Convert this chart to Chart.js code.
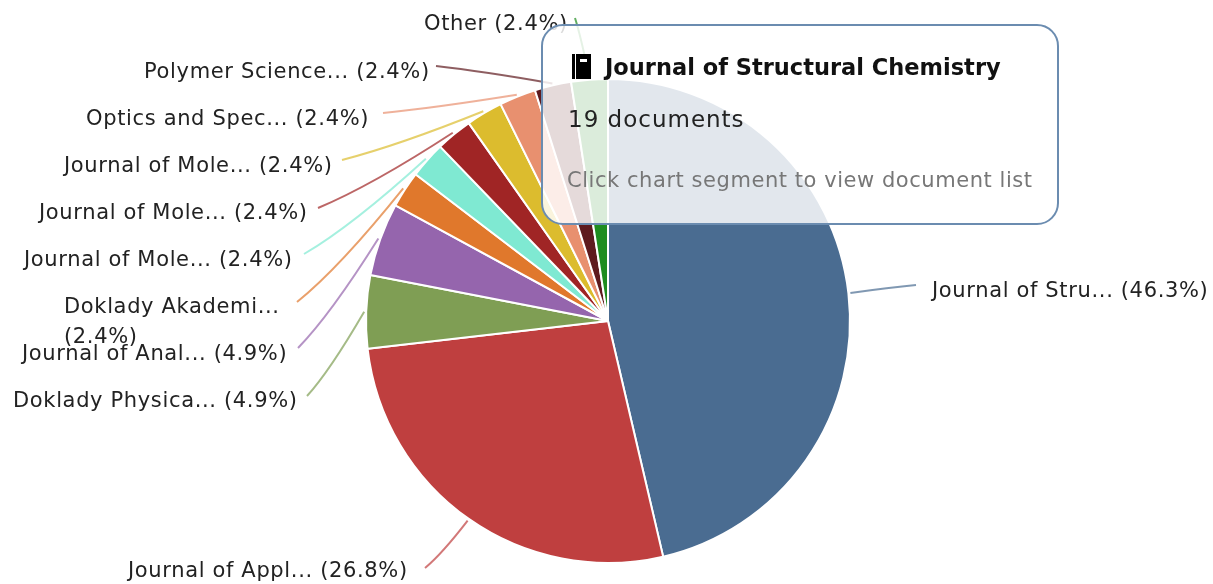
<!DOCTYPE html>
<html>
<head>
<style>
    html, body { margin: 0; padding: 0; background: #fff; overflow: hidden; }
    #wrap { position: relative; width: 1213px; height: 584px; filter: blur(0.5px); }
    #tip {
        position: absolute; left: 541px; top: 24px; width: 514px; height: 197px;
        border: 2px solid #6b8cb0; border-radius: 22px;
        background: rgba(255,255,255,0.84);
        font-family: "DejaVu Sans", sans-serif; color: #222;
    }
    #tip div { position: absolute; white-space: nowrap; }
    #book { left: 29px; top: 28px; width: 19px; height: 25px; background: #000; }
    #book i { position: absolute; left: 3px; top: 0; width: 1px; height: 25px; background: #fff; }
    #book b { position: absolute; left: 8px; top: 5px; width: 7px; height: 3px; background: #fff; }
    #tipTitle { left: 62px; top: 28px; font-weight: bold; font-size: 22.5px; color: #111; }
    #tipCount { left: 25px; top: 80px; font-size: 23px; letter-spacing: 1px; }
    #tipHint { left: 24px; top: 142px; font-size: 21px; letter-spacing: 0.55px; color: #777; }
</style>
</head>
<body>
    <script src="https://cdn.jsdelivr.net/npm/chart.js"></script>
    <div id="wrap">
        <canvas id="canvas" width="1213" height="584"></canvas>
        <div id="tip">
            <div id="book"><i></i><b></b></div>
            <div id="tipTitle">Journal of Structural Chemistry</div>
            <div id="tipCount">19 documents</div>
            <div id="tipHint">Click chart segment to view document list</div>
        </div>
    </div>
    <script>
        const categories = ["Journal of Stru...", "Journal of Appl...", "Doklady Physica...", "Journal of Anal...", "Doklady Akademi...", "Journal of Mole...", "Journal of Mole...", "Journal of Mole...", "Optics and Spec...", "Polymer Science...", "Other"];
        const documents = [19, 11, 2, 2, 1, 1, 1, 1, 1, 1, 1];
        const colors = ["#4a6c91", "#bf3f3f", "#7f9e54", "#9565ad", "#e0782c", "#7fe9d2", "#a02525", "#dcbc2e", "#e8906f", "#5e1a1e", "#1f8c1f"];
        // where each label sits [x, y] and where its leader line ends [x, y]
        const labelPos = [[932, 292], [128, 572], [13, 402], [22, 355], [64, 308], [24, 261], [39, 214], [64, 167], [86, 120], [144, 73], [424, 25]];
        const leaderEnd = [[916, 285], [425, 568], [307, 396], [298, 348], [297, 302], [304, 254], [318, 208], [342, 160], [383, 113], [436, 66], [575, 18]];

        const total = documents.reduce((a, b) => a + b, 0);

        const labelsPlugin = {
            id: 'outsideLabels',
            afterDatasetsDraw(chart) {
                const ctx = chart.ctx;
                const arcs = chart.getDatasetMeta(0).data;
                ctx.save();
                arcs.forEach((arc, i) => {
                    const mid = (arc.startAngle + arc.endAngle) / 2;
                    const sx = arc.x + Math.cos(mid) * (arc.outerRadius + 2);
                    const sy = arc.y + Math.sin(mid) * (arc.outerRadius + 2);
                    const ex = leaderEnd[i][0];
                    const ey = leaderEnd[i][1];
                    ctx.beginPath();
                    ctx.moveTo(sx, sy);
                    ctx.quadraticCurveTo(sx + (ex - sx) * 0.6, sy + (ey - sy) * 0.7, ex, ey);
                    ctx.strokeStyle = colors[i];
                    ctx.globalAlpha = 0.7;
                    ctx.lineWidth = 2;
                    ctx.stroke();
                    ctx.globalAlpha = 1;

                    const pct = "(" + (documents[i] / total * 100).toFixed(1) + "%)";
                    ctx.font = '21px "DejaVu Sans"';
                    ctx.letterSpacing = "0.65px";
                    ctx.fillStyle = "#222";
                    ctx.textBaseline = "middle";
                    if (categories[i] === "Doklady Akademi...") {
                        ctx.fillText(categories[i], labelPos[i][0], labelPos[i][1]);
                        ctx.fillText(pct, labelPos[i][0], labelPos[i][1] + 30);
                    } else {
                        ctx.fillText(categories[i] + " " + pct, labelPos[i][0], labelPos[i][1]);
                    }
                });
                ctx.restore();
            }
        };

        new Chart(document.getElementById('canvas'), {
            type: 'pie',
            data: {
                labels: categories,
                datasets: [{
                    data: documents,
                    backgroundColor: colors,
                    borderColor: "#ffffff",
                    borderWidth: 2
                }]
            },
            options: {
                responsive: false,
                animation: false,
                layout: { padding: { top: 78, bottom: 20, left: 365, right: 362 } },
                plugins: { legend: { display: false }, tooltip: { enabled: false } }
            },
            plugins: [labelsPlugin]
        });
    </script>
</body>
</html>
